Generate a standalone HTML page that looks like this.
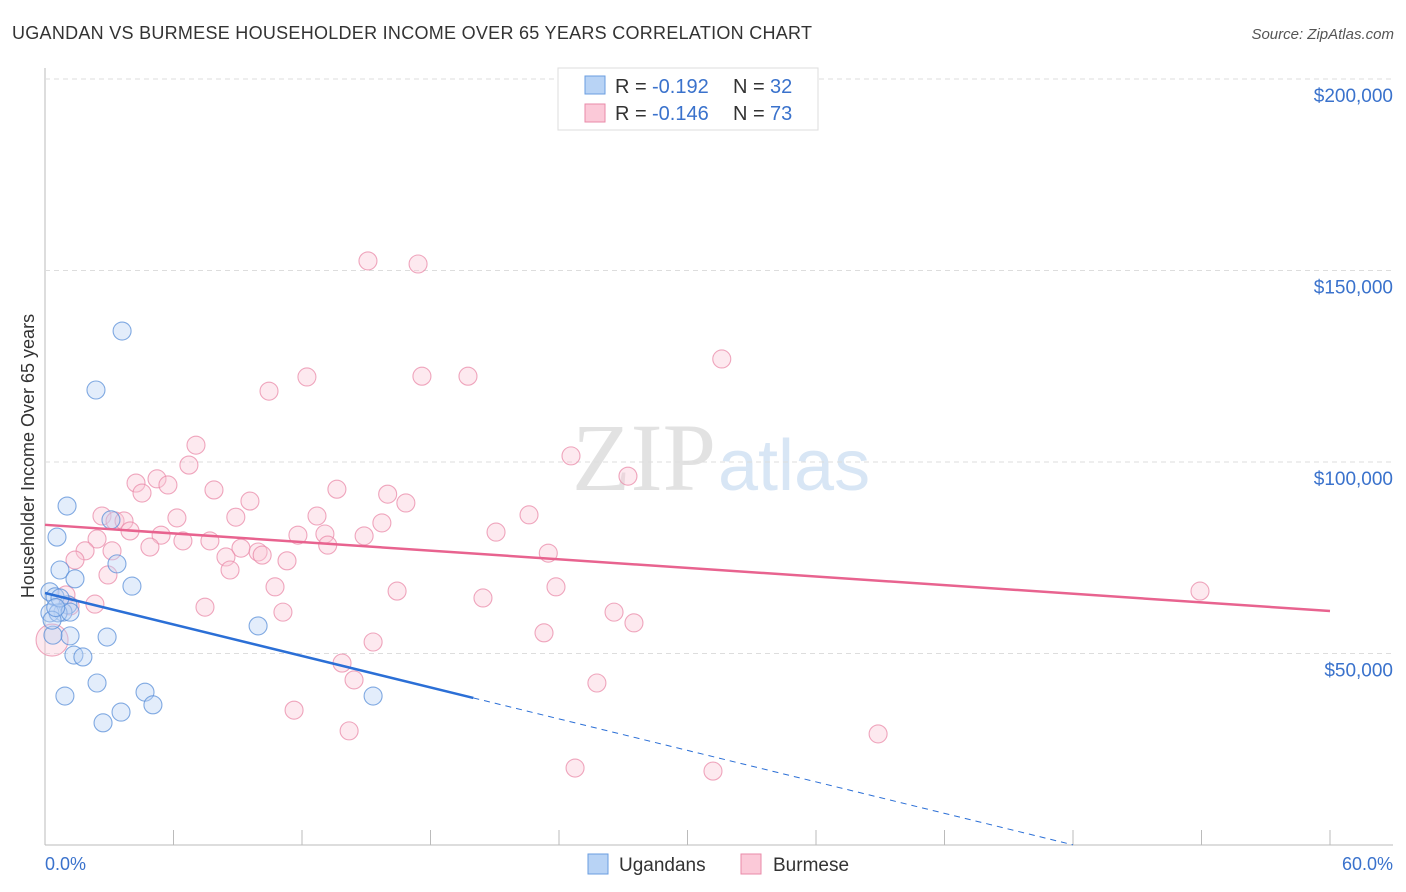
<!DOCTYPE html>
<html><head><meta charset="utf-8">
<style>
body{margin:0;background:#fff;font-family:"Liberation Sans",sans-serif;}
svg{display:block}
</style></head>
<body>
<svg id="chart" width="1406" height="892">
<text x="12" y="39" font-size="18" fill="#333" textLength="800">UGANDAN VS BURMESE HOUSEHOLDER INCOME OVER 65 YEARS CORRELATION CHART</text>
<text x="1394" y="39" font-size="15" fill="#555" font-style="italic" text-anchor="end">Source: ZipAtlas.com</text>
<text x="716" y="490" font-size="96" fill="#e2e2e2" text-anchor="end" font-family="Liberation Serif, serif">ZIP</text>
<text x="718" y="490" font-size="72" fill="#d8e6f5">atlas</text>
<text transform="translate(34,456) rotate(-90)" font-size="18" fill="#333" text-anchor="middle">Householder Income Over 65 years</text>
<g id="grid"></g><g id="marks"></g>
<g>
<rect x="558" y="68" width="260" height="62" fill="#fff" stroke="#ddd"/>
<rect x="585" y="76" width="20" height="18" fill="#b8d3f5" stroke="#6a9ee0"/>
<text x="615" y="93" font-size="20" fill="#333">R =</text>
<text x="652" y="93" font-size="20" fill="#3a72cc">-0.192</text>
<text x="733" y="93" font-size="20" fill="#333">N =</text>
<text x="770" y="93" font-size="20" fill="#3a72cc">32</text>
<rect x="585" y="104" width="20" height="18" fill="#fbc9d8" stroke="#e98aa8"/>
<text x="615" y="120" font-size="20" fill="#333">R =</text>
<text x="652" y="120" font-size="20" fill="#3a72cc">-0.146</text>
<text x="733" y="120" font-size="20" fill="#333">N =</text>
<text x="770" y="120" font-size="20" fill="#3a72cc">73</text>
</g>
<g>
<rect x="588" y="854" width="20" height="20" fill="#b8d3f5" stroke="#6a9ee0"/>
<text x="619" y="871" font-size="19" fill="#333">Ugandans</text>
<rect x="741" y="854" width="20" height="20" fill="#fbc9d8" stroke="#e98aa8"/>
<text x="773" y="871" font-size="19" fill="#333">Burmese</text>
</g>
<text x="45" y="870" font-size="18" fill="#3a72cc">0.0%</text>
<text x="1393" y="870" font-size="18" fill="#3a72cc" text-anchor="end">60.0%</text>
</svg>
<script>
const yTicks=[50,100,150,200];
const yTickLabels=["$50,000","$100,000","$150,000","$200,000"];
const ugX=[3.6,2.38,1.03,0.56,3.08,3.36,0.70,1.40,4.06,0.23,0.47,1.07,0.84,0.23,0.61,1.17,9.95,1.17,2.90,0.37,1.35,1.77,2.43,0.93,4.67,5.04,3.55,2.71,15.32,0.33,0.7,0.5];
const ugY=[134.2,118.8,88.5,80.4,84.9,73.4,71.8,69.5,67.6,66.1,64.8,62.7,60.8,60.6,60.6,60.8,57.2,54.6,54.3,54.8,49.6,49.1,42.3,38.9,39.9,36.6,34.7,31.9,38.9,58.7,64.5,62.0];
const buX=[15.08,17.42,31.6,10.46,12.23,17.6,19.75,7.05,6.72,24.56,27.22,4.25,5.23,5.74,4.53,7.89,9.57,13.63,16.0,16.85,2.66,3.27,3.69,6.16,8.91,12.7,22.6,15.73,3.97,5.42,11.81,13.07,14.9,21.06,2.43,6.44,7.7,9.15,4.9,13.2,1.87,3.13,1.4,8.45,9.95,10.14,11.3,23.5,8.64,2.94,10.74,23.86,16.44,53.93,20.45,2.33,7.47,11.11,26.57,27.5,23.3,15.32,13.87,14.43,25.77,11.63,14.2,38.9,24.75,31.19,0.98,1.17,0.33];
const buY=[152.5,151.7,126.9,118.5,122.2,122.4,122.4,104.4,99.2,101.6,96.3,94.5,95.6,94.0,91.9,92.7,89.8,92.9,91.6,89.3,85.9,84.6,84.6,85.4,85.6,85.9,86.2,84.1,82.0,80.9,80.9,81.2,80.7,81.7,79.9,79.4,79.4,77.5,77.8,78.3,76.8,76.8,74.4,75.2,76.5,75.7,74.2,76.2,71.8,70.5,67.4,67.4,66.3,66.3,64.5,62.9,62.1,60.8,60.8,58.0,55.4,53.0,47.5,43.1,42.3,35.2,29.8,29.0,20.1,19.3,65.3,62.4,53.5];
const ugTrend=[65.8,-1.37];
const buTrend=[83.6,-0.375];
const X=v=>45+v/60*1285, Y=v=>845-v/50*191.5;
const NS="http://www.w3.org/2000/svg";
const grid=document.getElementById('grid'), marks=document.getElementById('marks');
function mk(p,tag,a){const e=document.createElementNS(NS,tag);for(const k in a)e.setAttribute(k,a[k]);p.appendChild(e);return e;}
const ax=mk(grid,'line',{x1:45,y1:845,x2:1393,y2:845,stroke:'#bbb'});


const ay=mk(grid,'line',{x1:45,y1:68,x2:45,y2:845,stroke:'#bbb'});


for(let i=1;i<=10;i++){const t=mk(grid,'line',{x1:X(i*6),x2:X(i*6),y1:830,y2:845,stroke:'#bbb'});

}
yTicks.forEach((v,i)=>{const g=mk(grid,'line',{x1:45,x2:1393,y1:Y(v),y2:Y(v),stroke:'#ddd','stroke-dasharray':'5,4'});


const t=mk(grid,'text',{x:1393,y:Y(v)+23,'font-size':19,fill:'#3a72cc','text-anchor':'end'});t.textContent=yTickLabels[i];

});
function pts(xs,ys,fill,stroke,name){xs.forEach((x,i)=>{const r=(name==='burmese-point'&&i===xs.length-1)?16:9;
const c=mk(marks,'circle',{cx:X(x),cy:Y(ys[i]),r:r,fill:fill,'fill-opacity':0.4,stroke:stroke,'stroke-width':1.1,'stroke-opacity':0.75});

});}
pts(buX,buY,'#fbc9d8','#e98aa8','burmese-point');
pts(ugX,ugY,'#b8d3f5','#5a8fd8','ugandan-point');
const bl=mk(marks,'line',{x1:X(0),y1:Y(buTrend[0]),x2:X(60),y2:Y(buTrend[0]+buTrend[1]*60),stroke:'#e8638f','stroke-width':2.5});


const ul=mk(marks,'line',{x1:X(0),y1:Y(ugTrend[0]),x2:X(20),y2:Y(ugTrend[0]+ugTrend[1]*20),stroke:'#2b6fd6','stroke-width':2.5});


const ud=mk(marks,'line',{x1:X(20),y1:Y(ugTrend[0]+ugTrend[1]*20),x2:X(48),y2:Y(ugTrend[0]+ugTrend[1]*48),stroke:'#2b6fd6','stroke-width':1,'stroke-dasharray':'6,5'});


</script>
</body></html>
